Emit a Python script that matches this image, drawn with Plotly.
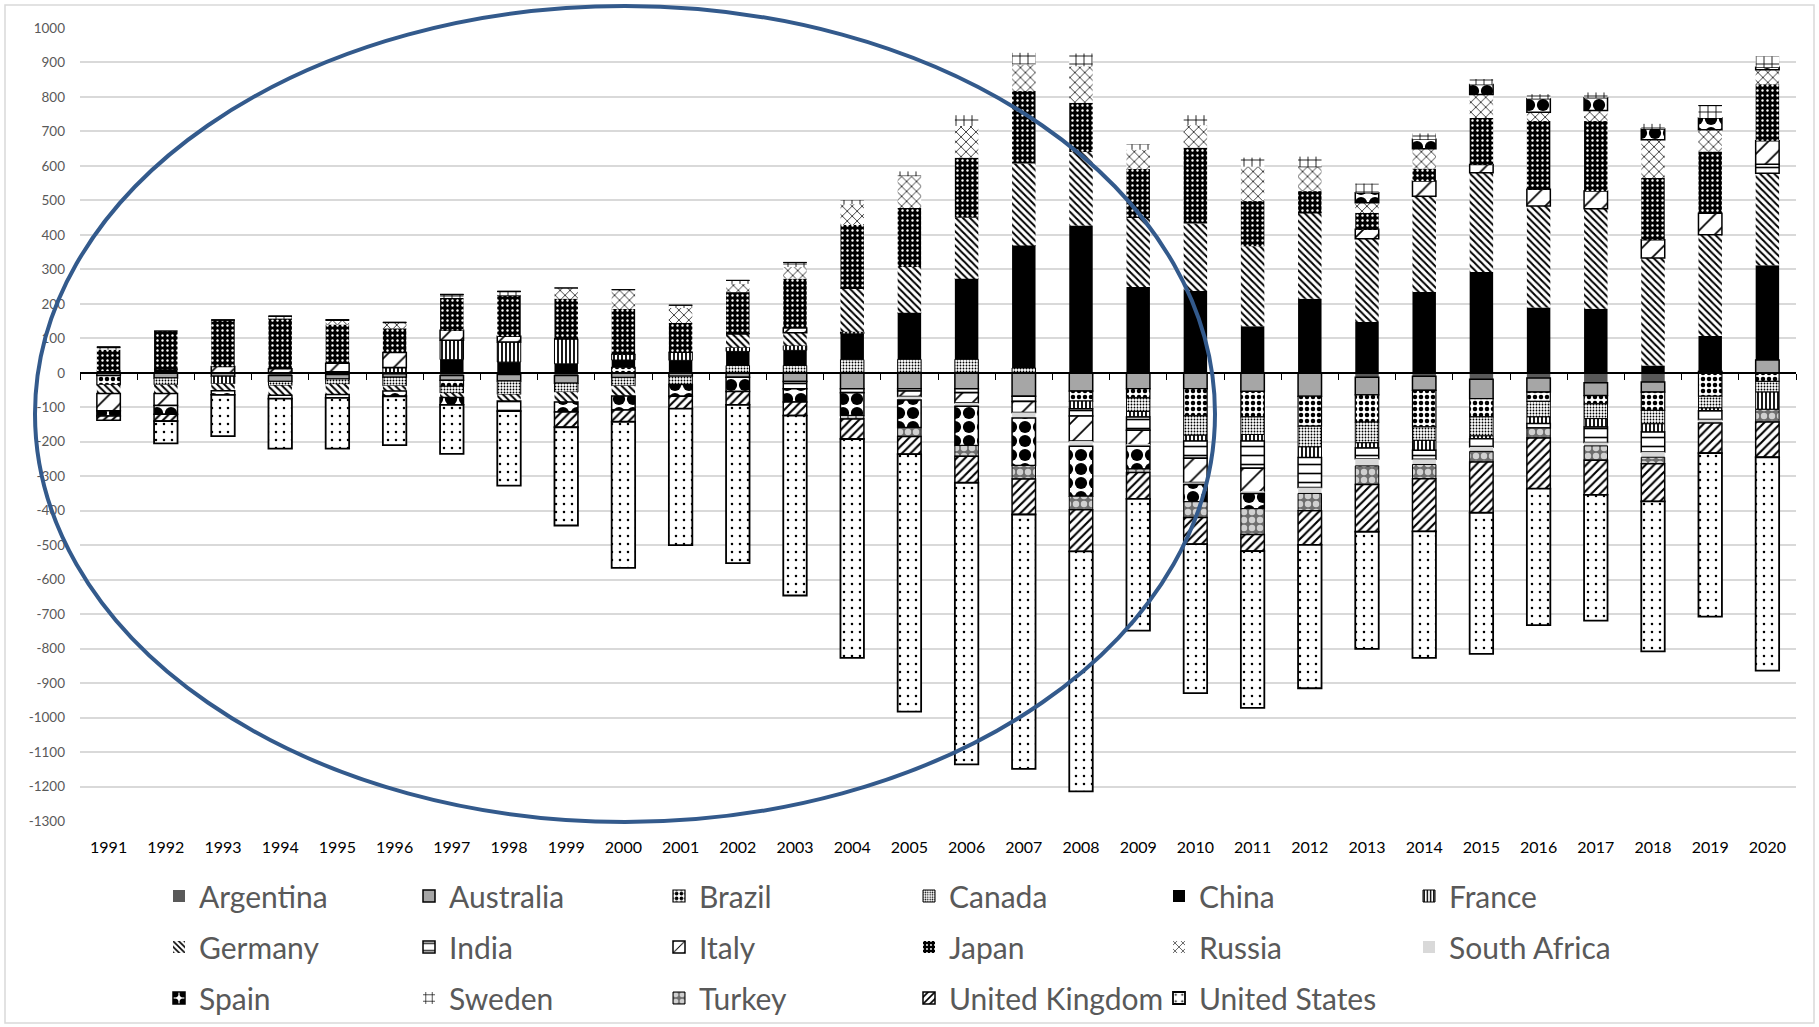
import plotly.graph_objects as go

# Net positions by country, 1991-2020 (same units as the value axis)
years = [str(y) for y in range(1991, 2021)]

argentina = [0, 0, 0, -8, -5, -3, -8, -5, -8, 0, 0, 0, 0, 0, 0, 0, 0, 0, 0, 0,
             0, 0, -13, -10, -19, -15, -29, -27, 0, 0]
australia = [-8, -15, -10, -17, -13, -10, -14, -19, -22, -14, -10, -13, -25, -46, -46, -46, -68, -53, -46, -46,
             -54, -68, -51, -41, -56, -41, -37, -29, 4, 37]
brazil = [-27, 0, 0, 0, 0, 0, -17, 0, 0, 16, 0, 0, 0, 0, 0, 0, 0, -29, -27, -79,
          -74, -87, -79, -106, -53, -27, -24, -53, -68, -25]
canada = [0, -20, 0, -12, -15, -25, -20, -39, -26, -24, -24, 21, 21, 38, 39, 39, 14, 0, -39, -56,
          -51, -60, -60, -39, -55, -45, -43, -39, -34, -31]
china = [5, 10, 0, 0, 3, 0, 38, 31, 26, 21, 36, 41, 44, 75, 135, 234, 355, 427, 249, 237,
         135, 215, 147, 234, 292, 189, 186, 21, 103, 275]
france = [0, 0, -22, 0, 0, 15, 56, 58, 73, 17, 24, 12, 14, 6, 0, 0, 0, -22, -16, -17,
          -19, -31, -15, -29, -8, -19, -24, -24, -8, -50]
germany = [-25, -25, -20, -28, -30, -15, -13, -19, -29, -29, 0, 39, 37, 126, 133, 177, 238, 213, 200, 196,
           232, 249, 242, 278, 288, 295, 290, 312, 293, 267]
india = [0, 0, 0, -10, -10, 0, 0, -29, 0, 0, 0, 0, -21, -12, -7, -12, -15, -21, -39, -50,
         -79, -87, -31, -26, -24, -13, -45, -58, -26, 26]
italy = [-50, -35, 18, 12, 25, 44, 29, 17, 0, 0, 0, 0, 14, 0, -16, -29, -32, -73, -42, -70,
         -68, 0, 27, 44, 24, 48, 51, 53, 63, 68]
japan = [62, 111, 135, 145, 112, 70, 94, 118, 116, 131, 85, 121, 143, 184, 171, 174, 210, 143, 142, 220,
         131, 63, 48, 36, 135, 198, 203, 179, 179, 164]
russia = [0, 0, 0, 0, 13, 17, 0, 0, 31, 56, 43, 24, 34, 60, 92, 92, 77, 106, 56, 65,
          100, 71, 29, 58, 68, 26, 31, 111, 63, 42]
south_africa = [0, 0, 0, 0, 0, 0, 0, 0, 0, 0, 0, 0, 0, 0, -10, -10, -16, -15, -4, -6,
                -5, -17, -21, -15, -13, 0, -10, -15, -10, 0]
spain = [-15, -25, -12, 0, 0, -15, -21, 0, -29, -41, -34, -41, -39, -66, -80, -114, -138, -145, -66, -50,
         -44, 0, 29, 27, 29, 39, 37, 31, 34, 7]
sweden = [7, 0, 0, 7, 0, 0, 10, 12, 0, 0, 8, 10, 13, 12, 14, 31, 34, 37, 16, 29,
          26, 29, 27, 17, 16, 13, 15, 15, 36, 32]
turkey = [0, 0, 0, 0, 0, 0, 0, 0, 0, 0, 0, 0, 0, -10, -26, -31, -39, -39, -10, -46,
          -75, -50, -54, -41, -31, -29, -42, -19, 0, -37]
united_kingdom = [-13, -20, 0, 0, 0, 0, 0, 0, -44, -34, -36, -39, -39, -58, -51, -77, -103, -121, -77, -77,
                  -48, -99, -137, -153, -147, -147, -100, -109, -87, -102]
united_states = [0, -65, -120, -145, -147, -142, -142, -216, -285, -424, -396, -459, -522, -635, -747, -817, -738, -696, -382, -432,
                 -455, -416, -340, -367, -409, -396, -365, -435, -474, -619]

y_ticks = list(range(-1300, 1001, 100))


def pat(shape, fg, bg, size, solidity):
    return dict(pattern=dict(shape=shape, fgcolor=fg, bgcolor=bg, size=size,
                             solidity=solidity, fgopacity=1, fillmode="replace"))


# Fill style for each country and its outline width
series = [
    ("Argentina", argentina, dict(color="#595959"), 0),
    ("Australia", australia, dict(color="#a6a6a6"), 1.5),
    ("Brazil", brazil, pat(".", "black", "white", 6, 0.45), 1.2),
    ("Canada", canada, pat(".", "black", "white", 3, 0.3), 1.0),
    ("China", china, dict(color="black"), 0),
    ("France", france, pat("|", "black", "white", 4, 0.45), 1.0),
    ("Germany", germany, pat("\\", "black", "white", 5, 0.4), 0),
    ("India", india, pat("-", "black", "white", 9, 0.18), 1.5),
    ("Italy", italy, pat("/", "black", "white", 14, 0.12), 1.5),
    ("Japan", japan, pat(".", "white", "black", 5, 0.18), 0),
    ("Russia", russia, pat("x", "black", "white", 7, 0.2), 0),
    ("South Africa", south_africa, dict(color="#d9d9d9"), 0),
    ("Spain", spain, pat(".", "black", "white", 14, 0.6), 1.5),
    ("Sweden", sweden, pat("+", "black", "white", 8, 0.2), 0),
    ("Turkey", turkey, pat(".", "#d0d0d0", "#6e6e6e", 8, 0.5), 1.0),
    ("United Kingdom", united_kingdom, pat("/", "black", "white", 6, 0.35), 1.5),
    ("United States", united_states, pat(".", "black", "white", 8, 0.08), 1.8),
]

legend_ids = ["legend", "legend2", "legend3"]
per_row = 6

fig = go.Figure()
for i, (name, vals, style, lw) in enumerate(series):
    marker = dict(style)
    marker["line"] = dict(color="black", width=lw)
    fig.add_trace(go.Bar(name=name, x=years, y=vals, marker=marker,
                         legend=legend_ids[i // per_row]))

# Invisible trace that carries the zero-level category axis with boundary ticks
fig.add_trace(go.Scatter(x=years, y=[0] * len(years), xaxis="x2", mode="none",
                         showlegend=False, hoverinfo="skip"))

W, H = 1819, 1027
ml, mr, mt, mb = 80, 23, 28, 206
pw, ph = W - ml - mr, H - mt - mb


def px_x(v):
    return (v - ml) / pw


def px_y(v):
    return (H - mb - v) / ph


y_lo, y_hi = y_ticks[0], y_ticks[-1]


def legend_row(center_y):
    # placed against the whole figure so the rows never push the plot margins
    return dict(
        orientation="h", xref="container", yref="container",
        x=159 / W, xanchor="left", y=1 - center_y / H, yanchor="middle",
        font=dict(size=30, color="#595959"),
        entrywidth=205, entrywidthmode="pixels",
        itemwidth=30, traceorder="normal", bgcolor="rgba(0,0,0,0)",
    )


fig.update_layout(
    width=W, height=H,
    margin=dict(l=ml, r=mr, t=mt, b=mb, pad=0, autoexpand=False),
    barmode="relative",
    bargap=0.59,
    plot_bgcolor="white",
    paper_bgcolor="white",
    font=dict(family="Lato, Open Sans, sans-serif", color="#595959"),
    xaxis=dict(
        type="category", showgrid=False, showline=False, ticks="",
        tickfont=dict(size=16, color="black"), ticklabelstandoff=15,
        zeroline=False,
    ),
    xaxis2=dict(
        type="category", overlaying="x", anchor="free", side="bottom",
        position=(0 - y_lo) / (y_hi - y_lo),
        showline=True, linecolor="black", linewidth=1.6,
        ticks="outside", ticklen=6, tickwidth=1.3, tickcolor="black",
        tickson="boundaries", showticklabels=False, showgrid=False,
        matches="x",
    ),
    yaxis=dict(
        range=[y_lo, y_hi], tickvals=y_ticks, ticktext=[str(v) for v in y_ticks],
        showgrid=True, gridcolor="#d9d9d9", gridwidth=1.5,
        zeroline=False, showline=False,
        tickfont=dict(size=13.5, color="#595959"), ticklabelstandoff=14,
    ),
    legend=legend_row(896),
    legend2=legend_row(947),
    legend3=legend_row(998),
    showlegend=True,
    shapes=[
        # chart-area border
        dict(type="rect", xref="paper", yref="paper",
             x0=px_x(5), x1=px_x(1814), y0=px_y(1023), y1=px_y(5),
             line=dict(color="#d9d9d9", width=1.5), fillcolor="rgba(0,0,0,0)", layer="below"),
        # highlight ellipse over the early period
        dict(type="circle", xref="paper", yref="paper",
             x0=px_x(35), x1=px_x(1215), y0=px_y(822), y1=px_y(6),
             line=dict(color="#335a8c", width=4), fillcolor="rgba(0,0,0,0)", layer="above"),
    ],
)

fig.write_html("out.html")
